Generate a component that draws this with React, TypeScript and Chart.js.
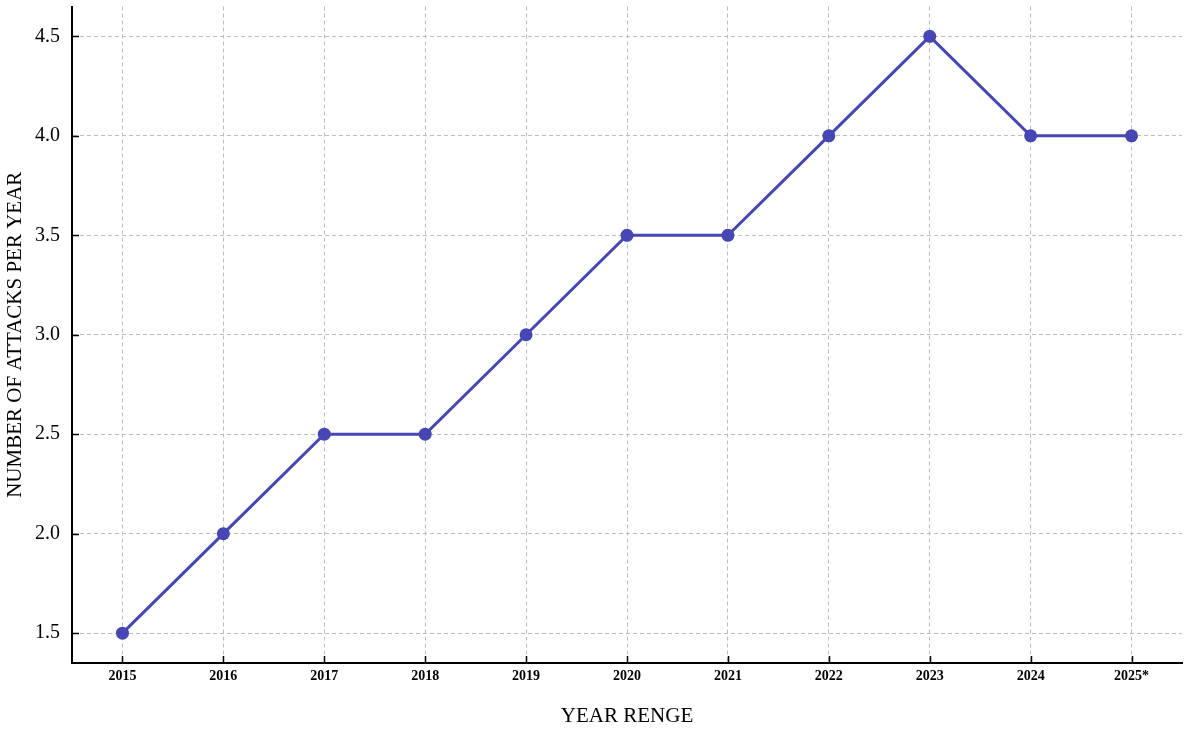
import React, { useEffect, useRef } from "react";
import { Chart, registerables } from "chart.js";

Chart.register(...registerables);

const years: string[] = ["2015", "2016", "2017", "2018", "2019", "2020", "2021", "2022", "2023", "2024", "2025*"];
const attacks: number[] = [1.5, 2.0, 2.5, 2.5, 3.0, 3.5, 3.5, 4.0, 4.5, 4.0, 4.0];
const yTicks: number[] = [1.5, 2.0, 2.5, 3.0, 3.5, 4.0, 4.5];
const yMin = 1.35;
const yMax = 4.65;

const LINE = "#4646b4";
const FONT = "'Liberation Serif', 'Times New Roman', serif";

const inwardTicks = {
  id: "inwardTicks",
  afterDraw(chart: any) {
    const { ctx, scales } = chart;
    const x = scales.x;
    const y = scales.y;
    ctx.save();
    ctx.strokeStyle = "#000";
    ctx.lineWidth = 1.5;
    ctx.beginPath();
    yTicks.forEach((v) => {
      const py = Math.round(y.getPixelForValue(v)) + 0.5;
      ctx.moveTo(x.left, py);
      ctx.lineTo(x.left + 7, py);
    });
    years.forEach((_, i) => {
      const px = Math.round(x.getPixelForValue(i)) + 0.5;
      ctx.moveTo(px, y.bottom);
      ctx.lineTo(px, y.bottom - 7);
    });
    ctx.stroke();
    ctx.restore();
  },
};

export default function App() {
  const ref = useRef<HTMLCanvasElement | null>(null);
  useEffect(() => {
    if (!ref.current) return;
    const chart = new Chart(ref.current, {
      type: "line",
      data: {
        labels: years,
        datasets: [
          {
            data: attacks,
            borderColor: LINE,
            backgroundColor: LINE,
            borderWidth: 3,
            pointRadius: 6.5,
            pointHoverRadius: 6.5,
            pointBorderWidth: 0,
            pointBackgroundColor: LINE,
            tension: 0,
            fill: false,
          },
        ],
      },
      options: {
        responsive: false,
        animation: false,
        layout: { padding: { left: 0, top: -3, right: 18, bottom: 0 } },
        plugins: {
          legend: { display: false },
          tooltip: { enabled: false },
        },
        scales: {
          x: {
            type: "category",
            offset: true,
            afterFit: (s: any) => {
              s.height = 66;
              s.paddingLeft = 0;
              s.paddingRight = 0;
            },
            grid: {
              display: true,
              offset: false,
              color: "#bdbdbd",
              lineWidth: 1,
              drawTicks: false,
            },
            border: { display: true, color: "#000", width: 2, dash: [4, 3] },
            ticks: {
              color: "#000",
              padding: 5,
              maxRotation: 0,
              autoSkip: false,
              font: { family: FONT, size: 14, weight: "bold" },
            },
            title: {
              display: true,
              text: "YEAR RENGE",
              color: "#000",
              padding: { top: 0, bottom: 0 },
              font: { family: FONT, size: 21 },
            },
          },
          y: {
            type: "linear",
            min: yMin,
            max: yMax,
            afterBuildTicks: (s: any) => {
              s.ticks = yTicks.map((v) => ({ value: v }));
            },
            afterFit: (s: any) => {
              s.width = 72;
              s.paddingTop = 0;
              s.paddingBottom = 0;
            },
            grid: {
              display: true,
              color: "#bdbdbd",
              lineWidth: 1,
              drawTicks: false,
            },
            border: { display: true, color: "#000", width: 2, dash: [4, 3] },
            ticks: {
              color: "#000",
              padding: 12,
              font: { family: FONT, size: 20 },
              callback: (v: any) => Number(v).toFixed(1),
            },
            title: {
              display: true,
              text: "NUMBER OF ATTACKS PER YEAR",
              color: "#000",
              padding: { top: 3, bottom: 0 },
              font: { family: FONT, size: 21 },
            },
          },
        },
      },
      plugins: [inwardTicks],
    });
    return () => chart.destroy();
  }, []);

  return (
    <div style={{ position: "absolute", left: 0, top: 0, width: 1200, height: 729, background: "#fff" }}>
      <canvas ref={ref} width={1200} height={729} style={{ display: "block" }} />
    </div>
  );
}
